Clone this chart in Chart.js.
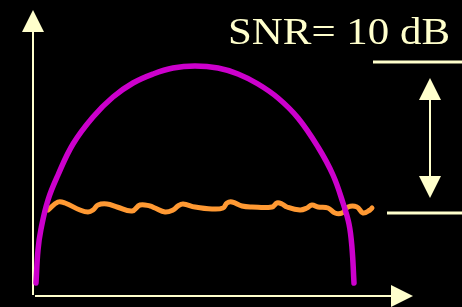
<!DOCTYPE html>
<html>
<head>
<meta charset="utf-8">
<script src="https://cdn.jsdelivr.net/npm/chart.js@4.4.1/dist/chart.umd.min.js"></script>
<style>
  html, body { margin: 0; padding: 0; background: #000; }
  #wrap { width: 462px; height: 307px; }
</style>
</head>
<body>
<div id="wrap"><canvas id="myChart" width="462" height="307"></canvas></div>
<script>
// signal spectrum (purple arc)
const signalX = [3, 5, 8, 15, 25, 40, 60, 80, 100, 120, 140, 162, 185, 205, 225, 245, 265, 285, 300, 310, 316, 319, 321];
const signalY = [13, 46, 67, 96, 121, 152, 179, 199, 213, 222, 228, 230, 228, 222, 212, 198, 178, 149, 121, 93, 72, 48, 13];

// noise floor (orange wiggle)
const noiseX = [15, 25, 32, 47, 55, 60, 65, 74, 84, 99, 107, 117, 122, 132, 140, 145, 150, 162, 179, 190, 194, 199, 209, 219, 239, 244, 249, 254, 267, 274, 279, 285, 295, 302, 309, 315, 324, 330, 337, 339];
const noiseY = [86, 94, 93, 86, 84, 86, 91, 92, 89, 85, 91, 90, 88, 84, 86, 90, 92, 89, 87, 88, 93, 94, 90, 89, 89, 93, 92, 89, 86, 88, 91, 89, 88, 83, 83, 89, 89, 83, 86, 88];

// SNR markers: levels of peak and noise, where the marker lines start, arrow ends
const markerLevels = [234, 83];
const markerStart = [340, 354];
const markerEnd = 429;
const arrowX = 397;
const arrowEnds = [218, 98];
const snrLabel = 'SNR= 10 dB';

const CREAM = '#FFFFCC';

function pts(xs, ys) {
  return xs.map((x, i) => ({x: x, y: ys[i]}));
}

function arrowHead(ctx, tx, ty, dx, dy, len, half) {
  // tip at (tx,ty), pointing along (dx,dy)
  const bx = tx - dx * len, by = ty - dy * len;
  ctx.beginPath();
  ctx.moveTo(tx, ty);
  ctx.lineTo(bx - dy * half, by + dx * half);
  ctx.lineTo(bx + dy * half, by - dx * half);
  ctx.closePath();
  ctx.fill();
}

const extras = {
  id: 'extras',
  beforeDatasetsDraw(chart) {
    const ctx = chart.ctx;
    const xs = chart.scales.x, ys = chart.scales.y;
    const ox = xs.getPixelForValue(0), oy = ys.getPixelForValue(0);
    const topY = ys.getPixelForValue(286), rightX = xs.getPixelForValue(380);
    ctx.save();
    ctx.strokeStyle = CREAM;
    ctx.fillStyle = CREAM;
    ctx.lineWidth = 2;
    // y axis
    ctx.beginPath();
    ctx.moveTo(ox, oy - 1);
    ctx.lineTo(ox, topY + 18);
    ctx.stroke();
    arrowHead(ctx, ox, topY, 0, -1, 22, 11);
    // x axis
    ctx.beginPath();
    ctx.moveTo(ox + 2, oy);
    ctx.lineTo(rightX - 18, oy);
    ctx.stroke();
    arrowHead(ctx, rightX, oy, 1, 0, 22, 11);

    // double arrow between the two levels
    const ax = xs.getPixelForValue(arrowX);
    const a1 = ys.getPixelForValue(arrowEnds[0]), a2 = ys.getPixelForValue(arrowEnds[1]);
    ctx.beginPath();
    ctx.moveTo(ax, a1 + 18);
    ctx.lineTo(ax, a2 - 18);
    ctx.stroke();
    arrowHead(ctx, ax, a1, 0, -1, 22, 11);
    arrowHead(ctx, ax, a2, 0, 1, 22, 11);

    // label
    ctx.font = '38px "Liberation Serif", "Times New Roman", serif';
    ctx.textBaseline = 'alphabetic';
    const w = ctx.measureText(snrLabel).width;
    ctx.translate(228, 44);
    ctx.scale(222 / w, 1);
    ctx.fillText(snrLabel, 0, 0);
    ctx.restore();
  }
};

const ctx = document.getElementById('myChart').getContext('2d');
const myChart = new Chart(ctx, {
  type: 'line',
  data: {
    datasets: [
      {
        label: 'signal',
        data: pts(signalX, signalY),
        borderColor: '#CC00CC',
        borderWidth: 5.5,
        borderCapStyle: 'round',
        borderJoinStyle: 'round',
        tension: 0.4,
        pointRadius: 0
      },
      {
        label: 'noise',
        data: pts(noiseX, noiseY),
        borderColor: '#FF9933',
        borderWidth: 5,
        borderCapStyle: 'round',
        borderJoinStyle: 'round',
        tension: 0.4,
        pointRadius: 0
      },
      {
        label: 'peak level',
        data: [{x: markerStart[0], y: markerLevels[0]}, {x: markerEnd, y: markerLevels[0]}],
        borderColor: CREAM,
        borderWidth: 3,
        pointRadius: 0
      },
      {
        label: 'noise level',
        data: [{x: markerStart[1], y: markerLevels[1]}, {x: markerEnd, y: markerLevels[1]}],
        borderColor: CREAM,
        borderWidth: 3,
        pointRadius: 0
      }
    ]
  },
  options: {
    responsive: false,
    animation: false,
    layout: { padding: 0 },
    plugins: {
      legend: { display: false },
      tooltip: { enabled: false }
    },
    scales: {
      x: { type: 'linear', min: -33, max: 429, display: false },
      y: { min: -11, max: 296, display: false }
    }
  },
  plugins: [extras]
});
</script>
</body>
</html>
